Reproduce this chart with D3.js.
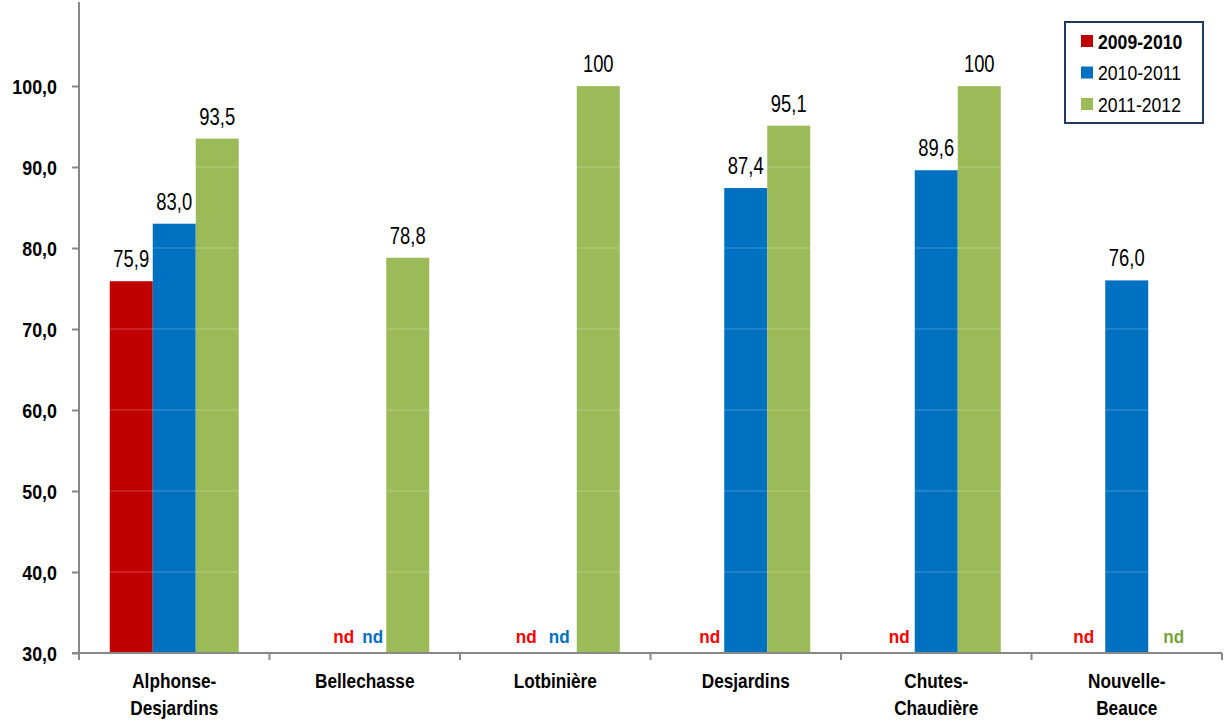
<!DOCTYPE html>
<html><head><meta charset="utf-8">
<script src="https://cdn.jsdelivr.net/npm/d3@7"></script>
<style>body{margin:0;background:#fff}svg{display:block;font-family:"Liberation Sans",Arial,sans-serif}</style>
</head><body><svg id="c" width="1226" height="721"></svg>
<script>
const categories = [["Alphonse-","Desjardins"],["Bellechasse"],["Lotbinière"],["Desjardins"],["Chutes-","Chaudière"],["Nouvelle-","Beauce"]];
const series = ["2009-2010","2010-2011","2011-2012"];
const v2009 = [75.9, null, null, null, null, null];
const v2010 = [83.0, null, null, 87.4, 89.6, 76.0];
const v2011 = [93.5, 78.8, 100, 95.1, 100, null];
const yTicks = [30,40,50,60,70,80,90,100];

// styling / layout
const barColors = ["#C00000","#0070C0","#9BBB59"];
const ndColors = ["#FF0000","#0070C0","#77A33A"];
// horizontal nudges of the "nd" labels (per series, per category), as in the original
const ndNudge = [[0,22,14,7,6,0],[0,8,4,0,0,0],[0,0,0,0,0,4]];

const values = [v2009, v2010, v2011];
const svg = d3.select("#c");
const L = 79, R = 1222, B = 653;
const y = d3.scaleLinear().domain([30,100]).range([B,86]);
const x0 = d3.scaleBand().domain(d3.range(categories.length)).range([L,R]);
const gw = 129;
const x1 = d3.scaleBand().domain(d3.range(series.length)).range([0,gw]);
const off = (x0.bandwidth()-gw)/2;
const fmt = v => v === 100 ? "100" : d3.format(".1f")(v).replace(".", ",");

function ntext(parent, x, yy, str, size, sx, opts = {}) {
  return parent.append("text")
    .attr("transform", `translate(${x},${yy}) scale(${sx},1)`)
    .attr("text-anchor", opts.anchor || "middle")
    .attr("font-size", size)
    .attr("font-weight", opts.weight || "normal")
    .attr("fill", opts.fill || "#000")
    .text(str);
}

// bars
values.forEach((arr, s) => {
  arr.forEach((v, i) => {
    const cx = x0(i) + off + x1(s);
    if (v != null) {
      svg.append("rect").attr("x", cx).attr("y", y(v)).attr("width", x1.bandwidth()).attr("height", B - y(v)).attr("fill", barColors[s]);
    }
  });
});

// faint gridlines over bars
yTicks.slice(1).forEach(t => {
  svg.append("line").attr("x1", L).attr("x2", R).attr("y1", y(t)).attr("y2", y(t))
    .attr("stroke","#fff").attr("stroke-opacity",0.25);
});

// labels
values.forEach((arr, s) => {
  arr.forEach((v, i) => {
    const cx = x0(i) + off + x1(s) + x1.bandwidth()/2;
    if (v != null) {
      ntext(svg, cx, y(v) - 14, fmt(v), 23, 0.8);
    } else {
      ntext(svg, cx + ndNudge[s][i], B - 10, "nd", 18, 0.95, {weight:"bold", fill: ndColors[s]});
    }
  });
});

// y axis
const ya = d3.axisLeft(y).tickValues(yTicks).tickSize(7).tickFormat("");
const gy = svg.append("g").attr("transform", `translate(${L},0)`).call(ya);
gy.select(".domain").remove();
gy.selectAll(".tick line").attr("stroke","#888").attr("stroke-width",2);
yTicks.forEach(t => ntext(svg, 57, y(t) + 7.5, d3.format(".1f")(t).replace(".", ","), 21, 0.85, {anchor:"end", weight:"bold"}));
svg.append("line").attr("x1",L).attr("x2",L).attr("y1",2).attr("y2",B).attr("stroke","#888").attr("stroke-width",2);

// x axis
svg.append("line").attr("x1",L-7).attr("x2",R).attr("y1",B).attr("y2",B).attr("stroke","#888").attr("stroke-width",2);
d3.range(categories.length+1).forEach(i => {
  const xx = i < categories.length ? x0(i) : R;
  svg.append("line").attr("x1",xx).attr("x2",xx).attr("y1",B).attr("y2",B+7).attr("stroke","#888").attr("stroke-width",2);
});
categories.forEach((lines, i) => {
  lines.forEach((ln, k) => ntext(svg, x0(i) + x0.bandwidth()/2, 688 + k*27, ln, 21, 0.82, {weight:"bold"}));
});

// legend
svg.append("rect").attr("x",1065).attr("y",22).attr("width",138).attr("height",101)
  .attr("fill","#fff").attr("stroke","#1F3864").attr("stroke-width",2);
series.forEach((s, k) => {
  const cy = 41 + k*31.5;
  svg.append("rect").attr("x",1081).attr("y",cy-6).attr("width",12).attr("height",12).attr("fill",barColors[k]);
  ntext(svg, 1098, cy + 7.5, s, 21, 0.84, {anchor:"start", weight: k===0 ? "bold" : "normal"});
});
</script></body></html>
